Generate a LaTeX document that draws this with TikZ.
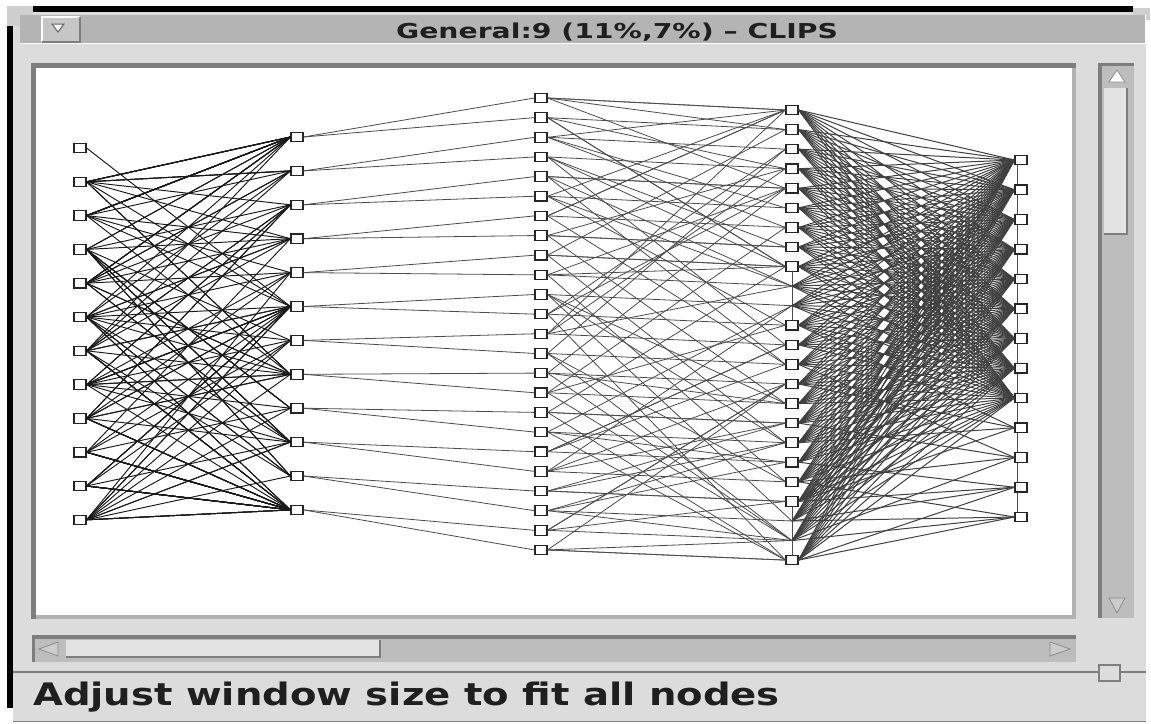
\documentclass[tikz,border=0pt]{standalone}
\usepackage{fontspec}
\usepackage{tikz}
\usetikzlibrary{calc}
\newfontfamily\uifont{DejaVu Sans}
\definecolor{winface}{HTML}{DCDCDC}
\definecolor{titlegray}{HTML}{B4B4B4}
\definecolor{btngray}{HTML}{C6C6C6}
\definecolor{cornergray}{HTML}{CFCFCF}
\definecolor{trough}{HTML}{BDBDBD}
\definecolor{shadowgray}{HTML}{7E7E7E}
\definecolor{thumbgray}{HTML}{E3E3E3}

\begin{document}
\begin{tikzpicture}[x=1pt, y=-1pt]
        \tikzstyle{nd} = [rectangle, minimum width=12pt, minimum height=9.5pt, inner sep=0pt, draw=black!85, line width=1.1pt, fill=white]
        \tikzstyle{hid} = [inner sep=0pt, minimum size=0pt]
        \tikzstyle{lnk} = [draw=black!70, line width=0.8pt]
        \tikzstyle{lnkd} = [draw=black!75, line width=1pt]
        \tikzstyle{lnkl} = [draw=black!90, line width=0.95pt]
        \tikzstyle{ttl} = [font=\uifont\bfseries\fontsize{20.5}{24}\selectfont, text=black!88, xscale=1.38, anchor=base, inner sep=0pt]
        \tikzstyle{msg} = [font=\uifont\bfseries\fontsize{31}{36}\selectfont, text=black!88, xscale=1.245, anchor=base west, inner sep=0pt]
        \useasboundingbox (0,0) rectangle (1151,723);

        % window frame
        \fill[white] (0,0) rectangle (1151,723);
        \fill[winface] (13,12) rectangle (1146,721);
        \fill[black] (33,6) rectangle (1133,12);
        \fill[black] (7,26) rectangle (13,708);
        \fill[cornergray] (7,6) rectangle (33,26);
        \fill[cornergray] (1133,8) rectangle (1150,20);
        \draw[shadowgray, line width=1pt] (13,721) -- (1146,721);

        % title bar
        \fill[titlegray] (20,15) rectangle (1145,43);
        \draw[white, line width=1.5pt] (20,43.5) -- (1145.5,43.5) -- (1145.5,15);
        \fill[btngray] (42,17) rectangle (80,42);
        \draw[white, line width=1.2pt] (42,42) -- (42,17) -- (80,17);
        \draw[shadowgray, line width=1.2pt] (42,42) -- (80,42) -- (80,17);
        \draw[black!60, fill=black!4, line width=1pt] (52,24) -- (64,24) -- (58,32) -- cycle;
        \node (title) [ttl] at (617,38) {General:9 (11\%,7\%) – CLIPS};

        % canvas
        \fill[shadowgray] (31,63) rectangle (1076,619);
        \fill[black!30] (36,615) rectangle (1076,619);
        \fill[black!30] (1072,68) rectangle (1076,619);
        \fill[white] (36,68) rectangle (1072,615);

        % vertical scrollbar
        \fill[trough] (1098,63) rectangle (1134,618);
        \fill[shadowgray] (1098,63) rectangle (1102,618);
        \fill[shadowgray] (1098,63) rectangle (1134,66);
        \draw[black!45, fill=white, line width=0.8pt] (1117,70) -- (1109,82) -- (1125,82) -- cycle;
        \fill[thumbgray] (1104,88) rectangle (1127,234);
        \draw[shadowgray, line width=2pt] (1104,234) -- (1127,234) -- (1127,88);
        \draw[black!45, fill=white!80!black, line width=0.8pt] (1109,598) -- (1125,598) -- (1117,613) -- cycle;

        % horizontal scrollbar
        \fill[trough] (32,635) rectangle (1076,662);
        \fill[shadowgray] (32,635) rectangle (1076,639);
        \fill[shadowgray] (32,635) rectangle (35,662);
        \draw[black!45, fill=white!80!black, line width=0.8pt] (39,649) -- (58,642) -- (58,656) -- cycle;
        \fill[thumbgray] (66,640) rectangle (380,657);
        \draw[shadowgray, line width=2pt] (66,657) -- (380,657) -- (380,640);
        \draw[black!45, fill=white!80!black, line width=0.8pt] (1070,649) -- (1050,642) -- (1050,656) -- cycle;

        % status line
        \draw[shadowgray, line width=1.5pt] (13,672) -- (1146,672);
        \draw[shadowgray, fill=winface, line width=1.5pt] (1099,665) rectangle (1120,681);
        \node (status) [msg] at (33,705) {Adjust window size to fit all nodes};

        % nodes, five columns
        \foreach \i in {1,...,12} { \node (na\i) [nd] at (80,{148+(\i-1)*33.8}) {}; }
        \foreach \i in {1,...,12} { \node (nb\i) [nd] at (297,{137+(\i-1)*33.9}) {}; }
        \foreach \i in {1,...,24} { \node (nc\i) [nd] at (541,{98+(\i-1)*19.65}) {}; }
        \foreach \i in {1,...,9,12,13,...,21,24} { \node (nd\i) [nd] at (792,{110+(\i-1)*19.57}) {}; }
        \foreach \i in {10,11,22,23} { \node (nd\i) [hid] at (792,{110+(\i-1)*19.57}) {}; }
        \foreach \i in {1,...,13} { \node (ne\i) [nd] at (1021,{160+(\i-1)*29.75}) {}; }

        % first band
        \pgfmathsetseed{1151}
        \draw[lnkl] (na1.east) -- (nb6.west);
        \foreach \i in {2,...,12} {
            \foreach \k in {1,...,13} {
                \pgfmathtruncatemacro{\j}{max(1,min(12,\i+random(0,14)-7))}
                \draw[lnkl] (na\i.east) -- (nb\j.west);
            }
        }

        % second band
        \foreach \i in {1,...,12} {
            \pgfmathtruncatemacro{\j}{2*\i-1} \pgfmathtruncatemacro{\k}{2*\i}
            \draw[lnk] (nb\i.east) -- (nc\j.west); \draw[lnk] (nb\i.east) -- (nc\k.west);
        }

        % third band
        \foreach \i in {1,...,24} {
            \draw[lnk] (nc\i.east) -- (nd\i.west);
            \pgfmathtruncatemacro{\j}{(\i<13) ? (2*\i) : (2*\i-25)}
            \draw[lnk] (nc\i.east) -- (nd\j.west);
            \foreach \k in {1,2} {
                \pgfmathtruncatemacro{\j}{max(1,min(24,\i+random(0,18)-9))}
                \draw[lnk] (nc\i.east) -- (nd\j.west);
            }
        }
        \draw[lnk] (nd9.south) -- (nd12.north); \draw[lnk] (nd21.south) -- (nd24.north);

        % fourth band
        \foreach \i in {1,...,24} { \foreach \j in {1,...,9} { \draw[lnkd] (nd\i.east) -- (ne\j.west); } }
        \foreach \j/\i in {10/12,10/15,10/18,10/21,11/14,11/17,11/20,11/23,12/19,12/21,12/22,12/24,13/20,13/22,13/23,13/24} { \draw[lnkd] (nd\i.east) -- (ne\j.west); }
        \foreach \j in {1,...,12} {
            \pgfmathtruncatemacro{\k}{\j+1}
            \draw[lnk] ([xshift=3pt]ne\j.south west) -- ([xshift=3pt]ne\k.north west);
        }
    \end{tikzpicture}
\end{document}
